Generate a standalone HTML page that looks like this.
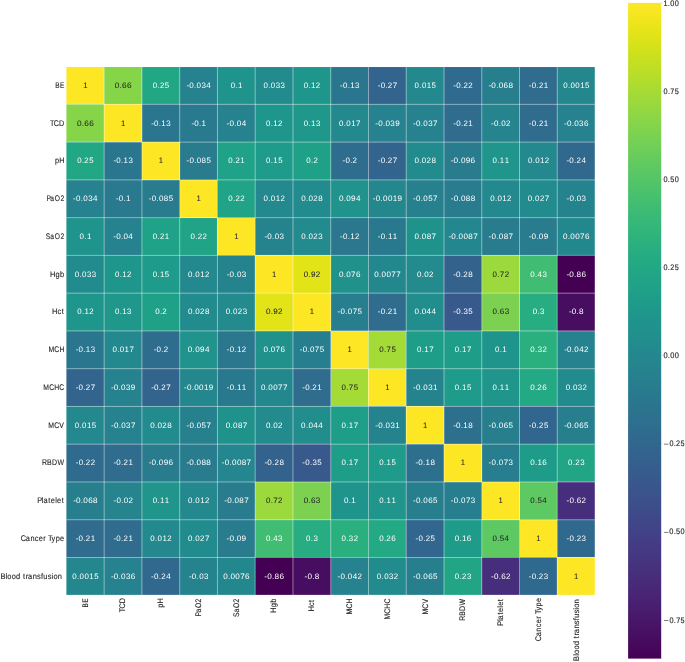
<!DOCTYPE html>
<html><head><meta charset="utf-8"><style>
html,body{margin:0;padding:0;background:#fff;}
body{width:685px;height:662px;overflow:hidden;position:relative;}
svg{position:absolute;left:0;top:0;display:block;will-change:transform;}
text{font-family:"Liberation Sans",sans-serif;text-rendering:geometricPrecision;}
</style></head><body>
<svg width="685" height="662" viewBox="0 0 685 662">
<defs><linearGradient id="cb" x1="0" y1="1" x2="0" y2="0">
<stop offset="0.0000" stop-color="#440154"/>
<stop offset="0.0156" stop-color="#46075a"/>
<stop offset="0.0312" stop-color="#470d60"/>
<stop offset="0.0469" stop-color="#471365"/>
<stop offset="0.0625" stop-color="#48186a"/>
<stop offset="0.0781" stop-color="#481d6f"/>
<stop offset="0.0938" stop-color="#482374"/>
<stop offset="0.1094" stop-color="#482878"/>
<stop offset="0.1250" stop-color="#472d7b"/>
<stop offset="0.1406" stop-color="#46327e"/>
<stop offset="0.1562" stop-color="#453781"/>
<stop offset="0.1719" stop-color="#443b84"/>
<stop offset="0.1875" stop-color="#424086"/>
<stop offset="0.2031" stop-color="#404588"/>
<stop offset="0.2188" stop-color="#3e4989"/>
<stop offset="0.2344" stop-color="#3d4e8a"/>
<stop offset="0.2500" stop-color="#3b528b"/>
<stop offset="0.2656" stop-color="#39568c"/>
<stop offset="0.2812" stop-color="#375b8d"/>
<stop offset="0.2969" stop-color="#355f8d"/>
<stop offset="0.3125" stop-color="#33638d"/>
<stop offset="0.3281" stop-color="#31678e"/>
<stop offset="0.3438" stop-color="#2f6b8e"/>
<stop offset="0.3594" stop-color="#2e6f8e"/>
<stop offset="0.3750" stop-color="#2c728e"/>
<stop offset="0.3906" stop-color="#2a768e"/>
<stop offset="0.4062" stop-color="#297a8e"/>
<stop offset="0.4219" stop-color="#277e8e"/>
<stop offset="0.4375" stop-color="#26828e"/>
<stop offset="0.4531" stop-color="#25858e"/>
<stop offset="0.4688" stop-color="#23898e"/>
<stop offset="0.4844" stop-color="#228d8d"/>
<stop offset="0.5000" stop-color="#21918c"/>
<stop offset="0.5156" stop-color="#1f948c"/>
<stop offset="0.5312" stop-color="#1f988b"/>
<stop offset="0.5469" stop-color="#1e9c89"/>
<stop offset="0.5625" stop-color="#1fa088"/>
<stop offset="0.5781" stop-color="#20a386"/>
<stop offset="0.5938" stop-color="#22a785"/>
<stop offset="0.6094" stop-color="#25ab82"/>
<stop offset="0.6250" stop-color="#28ae80"/>
<stop offset="0.6406" stop-color="#2db27d"/>
<stop offset="0.6562" stop-color="#32b67a"/>
<stop offset="0.6719" stop-color="#38b977"/>
<stop offset="0.6875" stop-color="#3fbc73"/>
<stop offset="0.7031" stop-color="#46c06f"/>
<stop offset="0.7188" stop-color="#4ec36b"/>
<stop offset="0.7344" stop-color="#56c667"/>
<stop offset="0.7500" stop-color="#5ec962"/>
<stop offset="0.7656" stop-color="#67cc5c"/>
<stop offset="0.7812" stop-color="#70cf57"/>
<stop offset="0.7969" stop-color="#7ad151"/>
<stop offset="0.8125" stop-color="#84d44b"/>
<stop offset="0.8281" stop-color="#8ed645"/>
<stop offset="0.8438" stop-color="#98d83e"/>
<stop offset="0.8594" stop-color="#a2da37"/>
<stop offset="0.8750" stop-color="#addc30"/>
<stop offset="0.8906" stop-color="#b8de29"/>
<stop offset="0.9062" stop-color="#c2df23"/>
<stop offset="0.9219" stop-color="#cde11d"/>
<stop offset="0.9375" stop-color="#d8e219"/>
<stop offset="0.9531" stop-color="#e2e418"/>
<stop offset="0.9688" stop-color="#ece51b"/>
<stop offset="0.9844" stop-color="#f6e620"/>
<stop offset="1.0000" stop-color="#fde725"/>
</linearGradient></defs>
<g shape-rendering="crispEdges">
<rect x="66.40" y="66.60" width="38.06" height="38.06" fill="#fde725"/>
<rect x="104.16" y="66.60" width="38.06" height="38.06" fill="#86d549"/>
<rect x="141.92" y="66.60" width="38.06" height="38.06" fill="#22a785"/>
<rect x="179.68" y="66.60" width="38.06" height="38.06" fill="#26828e"/>
<rect x="217.44" y="66.60" width="38.06" height="38.06" fill="#1f948c"/>
<rect x="255.20" y="66.60" width="38.06" height="38.06" fill="#228b8d"/>
<rect x="292.96" y="66.60" width="38.06" height="38.06" fill="#1f968b"/>
<rect x="330.72" y="66.60" width="38.06" height="38.06" fill="#2a768e"/>
<rect x="368.48" y="66.60" width="38.06" height="38.06" fill="#32648e"/>
<rect x="406.24" y="66.60" width="38.06" height="38.06" fill="#23898e"/>
<rect x="444.00" y="66.60" width="38.06" height="38.06" fill="#2f6b8e"/>
<rect x="481.76" y="66.60" width="38.06" height="38.06" fill="#277f8e"/>
<rect x="519.52" y="66.60" width="38.06" height="38.06" fill="#2f6c8e"/>
<rect x="557.28" y="66.60" width="37.76" height="38.06" fill="#24878e"/>
<rect x="66.40" y="104.36" width="38.06" height="38.06" fill="#86d549"/>
<rect x="104.16" y="104.36" width="38.06" height="38.06" fill="#fde725"/>
<rect x="141.92" y="104.36" width="38.06" height="38.06" fill="#2a768e"/>
<rect x="179.68" y="104.36" width="38.06" height="38.06" fill="#297a8e"/>
<rect x="217.44" y="104.36" width="38.06" height="38.06" fill="#26828e"/>
<rect x="255.20" y="104.36" width="38.06" height="38.06" fill="#1f968b"/>
<rect x="292.96" y="104.36" width="38.06" height="38.06" fill="#1f988b"/>
<rect x="330.72" y="104.36" width="38.06" height="38.06" fill="#23898e"/>
<rect x="368.48" y="104.36" width="38.06" height="38.06" fill="#26828e"/>
<rect x="406.24" y="104.36" width="38.06" height="38.06" fill="#26828e"/>
<rect x="444.00" y="104.36" width="38.06" height="38.06" fill="#2f6c8e"/>
<rect x="481.76" y="104.36" width="38.06" height="38.06" fill="#25848e"/>
<rect x="519.52" y="104.36" width="38.06" height="38.06" fill="#2f6c8e"/>
<rect x="557.28" y="104.36" width="37.76" height="38.06" fill="#26828e"/>
<rect x="66.40" y="142.12" width="38.06" height="38.06" fill="#22a785"/>
<rect x="104.16" y="142.12" width="38.06" height="38.06" fill="#2a768e"/>
<rect x="141.92" y="142.12" width="38.06" height="38.06" fill="#fde725"/>
<rect x="179.68" y="142.12" width="38.06" height="38.06" fill="#287c8e"/>
<rect x="217.44" y="142.12" width="38.06" height="38.06" fill="#1fa287"/>
<rect x="255.20" y="142.12" width="38.06" height="38.06" fill="#1e9b8a"/>
<rect x="292.96" y="142.12" width="38.06" height="38.06" fill="#1fa188"/>
<rect x="330.72" y="142.12" width="38.06" height="38.06" fill="#2e6d8e"/>
<rect x="368.48" y="142.12" width="38.06" height="38.06" fill="#32648e"/>
<rect x="406.24" y="142.12" width="38.06" height="38.06" fill="#228b8d"/>
<rect x="444.00" y="142.12" width="38.06" height="38.06" fill="#297b8e"/>
<rect x="481.76" y="142.12" width="38.06" height="38.06" fill="#1f958b"/>
<rect x="519.52" y="142.12" width="38.06" height="38.06" fill="#23898e"/>
<rect x="557.28" y="142.12" width="37.76" height="38.06" fill="#31688e"/>
<rect x="66.40" y="179.88" width="38.06" height="38.06" fill="#26828e"/>
<rect x="104.16" y="179.88" width="38.06" height="38.06" fill="#297a8e"/>
<rect x="141.92" y="179.88" width="38.06" height="38.06" fill="#287c8e"/>
<rect x="179.68" y="179.88" width="38.06" height="38.06" fill="#fde725"/>
<rect x="217.44" y="179.88" width="38.06" height="38.06" fill="#20a386"/>
<rect x="255.20" y="179.88" width="38.06" height="38.06" fill="#23898e"/>
<rect x="292.96" y="179.88" width="38.06" height="38.06" fill="#228b8d"/>
<rect x="330.72" y="179.88" width="38.06" height="38.06" fill="#20938c"/>
<rect x="368.48" y="179.88" width="38.06" height="38.06" fill="#24878e"/>
<rect x="406.24" y="179.88" width="38.06" height="38.06" fill="#27808e"/>
<rect x="444.00" y="179.88" width="38.06" height="38.06" fill="#287c8e"/>
<rect x="481.76" y="179.88" width="38.06" height="38.06" fill="#23898e"/>
<rect x="519.52" y="179.88" width="38.06" height="38.06" fill="#228b8d"/>
<rect x="557.28" y="179.88" width="37.76" height="38.06" fill="#25838e"/>
<rect x="66.40" y="217.64" width="38.06" height="38.06" fill="#1f948c"/>
<rect x="104.16" y="217.64" width="38.06" height="38.06" fill="#26828e"/>
<rect x="141.92" y="217.64" width="38.06" height="38.06" fill="#1fa287"/>
<rect x="179.68" y="217.64" width="38.06" height="38.06" fill="#20a386"/>
<rect x="217.44" y="217.64" width="38.06" height="38.06" fill="#fde725"/>
<rect x="255.20" y="217.64" width="38.06" height="38.06" fill="#25838e"/>
<rect x="292.96" y="217.64" width="38.06" height="38.06" fill="#238a8d"/>
<rect x="330.72" y="217.64" width="38.06" height="38.06" fill="#2a778e"/>
<rect x="368.48" y="217.64" width="38.06" height="38.06" fill="#29798e"/>
<rect x="406.24" y="217.64" width="38.06" height="38.06" fill="#20928c"/>
<rect x="444.00" y="217.64" width="38.06" height="38.06" fill="#24868e"/>
<rect x="481.76" y="217.64" width="38.06" height="38.06" fill="#287c8e"/>
<rect x="519.52" y="217.64" width="38.06" height="38.06" fill="#297b8e"/>
<rect x="557.28" y="217.64" width="37.76" height="38.06" fill="#23888e"/>
<rect x="66.40" y="255.40" width="38.06" height="38.06" fill="#228b8d"/>
<rect x="104.16" y="255.40" width="38.06" height="38.06" fill="#1f968b"/>
<rect x="141.92" y="255.40" width="38.06" height="38.06" fill="#1e9b8a"/>
<rect x="179.68" y="255.40" width="38.06" height="38.06" fill="#23898e"/>
<rect x="217.44" y="255.40" width="38.06" height="38.06" fill="#25838e"/>
<rect x="255.20" y="255.40" width="38.06" height="38.06" fill="#fde725"/>
<rect x="292.96" y="255.40" width="38.06" height="38.06" fill="#e2e418"/>
<rect x="330.72" y="255.40" width="38.06" height="38.06" fill="#21918c"/>
<rect x="368.48" y="255.40" width="38.06" height="38.06" fill="#23888e"/>
<rect x="406.24" y="255.40" width="38.06" height="38.06" fill="#238a8d"/>
<rect x="444.00" y="255.40" width="38.06" height="38.06" fill="#33628d"/>
<rect x="481.76" y="255.40" width="38.06" height="38.06" fill="#9bd93c"/>
<rect x="519.52" y="255.40" width="38.06" height="38.06" fill="#40bd72"/>
<rect x="557.28" y="255.40" width="37.76" height="38.06" fill="#440154"/>
<rect x="66.40" y="293.16" width="38.06" height="38.06" fill="#1f968b"/>
<rect x="104.16" y="293.16" width="38.06" height="38.06" fill="#1f988b"/>
<rect x="141.92" y="293.16" width="38.06" height="38.06" fill="#1fa188"/>
<rect x="179.68" y="293.16" width="38.06" height="38.06" fill="#228b8d"/>
<rect x="217.44" y="293.16" width="38.06" height="38.06" fill="#238a8d"/>
<rect x="255.20" y="293.16" width="38.06" height="38.06" fill="#e2e418"/>
<rect x="292.96" y="293.16" width="38.06" height="38.06" fill="#fde725"/>
<rect x="330.72" y="293.16" width="38.06" height="38.06" fill="#277e8e"/>
<rect x="368.48" y="293.16" width="38.06" height="38.06" fill="#2f6c8e"/>
<rect x="406.24" y="293.16" width="38.06" height="38.06" fill="#228d8d"/>
<rect x="444.00" y="293.16" width="38.06" height="38.06" fill="#38598c"/>
<rect x="481.76" y="293.16" width="38.06" height="38.06" fill="#7cd250"/>
<rect x="519.52" y="293.16" width="38.06" height="38.06" fill="#27ad81"/>
<rect x="557.28" y="293.16" width="37.76" height="38.06" fill="#470d60"/>
<rect x="66.40" y="330.92" width="38.06" height="38.06" fill="#2a768e"/>
<rect x="104.16" y="330.92" width="38.06" height="38.06" fill="#23898e"/>
<rect x="141.92" y="330.92" width="38.06" height="38.06" fill="#2e6d8e"/>
<rect x="179.68" y="330.92" width="38.06" height="38.06" fill="#20938c"/>
<rect x="217.44" y="330.92" width="38.06" height="38.06" fill="#2a778e"/>
<rect x="255.20" y="330.92" width="38.06" height="38.06" fill="#21918c"/>
<rect x="292.96" y="330.92" width="38.06" height="38.06" fill="#277e8e"/>
<rect x="330.72" y="330.92" width="38.06" height="38.06" fill="#fde725"/>
<rect x="368.48" y="330.92" width="38.06" height="38.06" fill="#a5db36"/>
<rect x="406.24" y="330.92" width="38.06" height="38.06" fill="#1e9d89"/>
<rect x="444.00" y="330.92" width="38.06" height="38.06" fill="#1e9d89"/>
<rect x="481.76" y="330.92" width="38.06" height="38.06" fill="#1f948c"/>
<rect x="519.52" y="330.92" width="38.06" height="38.06" fill="#2ab07f"/>
<rect x="557.28" y="330.92" width="37.76" height="38.06" fill="#26828e"/>
<rect x="66.40" y="368.68" width="38.06" height="38.06" fill="#32648e"/>
<rect x="104.16" y="368.68" width="38.06" height="38.06" fill="#26828e"/>
<rect x="141.92" y="368.68" width="38.06" height="38.06" fill="#32648e"/>
<rect x="179.68" y="368.68" width="38.06" height="38.06" fill="#24878e"/>
<rect x="217.44" y="368.68" width="38.06" height="38.06" fill="#29798e"/>
<rect x="255.20" y="368.68" width="38.06" height="38.06" fill="#23888e"/>
<rect x="292.96" y="368.68" width="38.06" height="38.06" fill="#2f6c8e"/>
<rect x="330.72" y="368.68" width="38.06" height="38.06" fill="#a5db36"/>
<rect x="368.48" y="368.68" width="38.06" height="38.06" fill="#fde725"/>
<rect x="406.24" y="368.68" width="38.06" height="38.06" fill="#25838e"/>
<rect x="444.00" y="368.68" width="38.06" height="38.06" fill="#1e9b8a"/>
<rect x="481.76" y="368.68" width="38.06" height="38.06" fill="#1f958b"/>
<rect x="519.52" y="368.68" width="38.06" height="38.06" fill="#23a983"/>
<rect x="557.28" y="368.68" width="37.76" height="38.06" fill="#228b8d"/>
<rect x="66.40" y="406.44" width="38.06" height="38.06" fill="#23898e"/>
<rect x="104.16" y="406.44" width="38.06" height="38.06" fill="#26828e"/>
<rect x="141.92" y="406.44" width="38.06" height="38.06" fill="#228b8d"/>
<rect x="179.68" y="406.44" width="38.06" height="38.06" fill="#27808e"/>
<rect x="217.44" y="406.44" width="38.06" height="38.06" fill="#20928c"/>
<rect x="255.20" y="406.44" width="38.06" height="38.06" fill="#238a8d"/>
<rect x="292.96" y="406.44" width="38.06" height="38.06" fill="#228d8d"/>
<rect x="330.72" y="406.44" width="38.06" height="38.06" fill="#1e9d89"/>
<rect x="368.48" y="406.44" width="38.06" height="38.06" fill="#25838e"/>
<rect x="406.24" y="406.44" width="38.06" height="38.06" fill="#fde725"/>
<rect x="444.00" y="406.44" width="38.06" height="38.06" fill="#2d708e"/>
<rect x="481.76" y="406.44" width="38.06" height="38.06" fill="#277f8e"/>
<rect x="519.52" y="406.44" width="38.06" height="38.06" fill="#31668e"/>
<rect x="557.28" y="406.44" width="37.76" height="38.06" fill="#277f8e"/>
<rect x="66.40" y="444.20" width="38.06" height="38.06" fill="#2f6b8e"/>
<rect x="104.16" y="444.20" width="38.06" height="38.06" fill="#2f6c8e"/>
<rect x="141.92" y="444.20" width="38.06" height="38.06" fill="#297b8e"/>
<rect x="179.68" y="444.20" width="38.06" height="38.06" fill="#287c8e"/>
<rect x="217.44" y="444.20" width="38.06" height="38.06" fill="#24868e"/>
<rect x="255.20" y="444.20" width="38.06" height="38.06" fill="#33628d"/>
<rect x="292.96" y="444.20" width="38.06" height="38.06" fill="#38598c"/>
<rect x="330.72" y="444.20" width="38.06" height="38.06" fill="#1e9d89"/>
<rect x="368.48" y="444.20" width="38.06" height="38.06" fill="#1e9b8a"/>
<rect x="406.24" y="444.20" width="38.06" height="38.06" fill="#2d708e"/>
<rect x="444.00" y="444.20" width="38.06" height="38.06" fill="#fde725"/>
<rect x="481.76" y="444.20" width="38.06" height="38.06" fill="#277e8e"/>
<rect x="519.52" y="444.20" width="38.06" height="38.06" fill="#1e9c89"/>
<rect x="557.28" y="444.20" width="37.76" height="38.06" fill="#21a585"/>
<rect x="66.40" y="481.96" width="38.06" height="38.06" fill="#277f8e"/>
<rect x="104.16" y="481.96" width="38.06" height="38.06" fill="#25848e"/>
<rect x="141.92" y="481.96" width="38.06" height="38.06" fill="#1f958b"/>
<rect x="179.68" y="481.96" width="38.06" height="38.06" fill="#23898e"/>
<rect x="217.44" y="481.96" width="38.06" height="38.06" fill="#287c8e"/>
<rect x="255.20" y="481.96" width="38.06" height="38.06" fill="#9bd93c"/>
<rect x="292.96" y="481.96" width="38.06" height="38.06" fill="#7cd250"/>
<rect x="330.72" y="481.96" width="38.06" height="38.06" fill="#1f948c"/>
<rect x="368.48" y="481.96" width="38.06" height="38.06" fill="#1f958b"/>
<rect x="406.24" y="481.96" width="38.06" height="38.06" fill="#277f8e"/>
<rect x="444.00" y="481.96" width="38.06" height="38.06" fill="#277e8e"/>
<rect x="481.76" y="481.96" width="38.06" height="38.06" fill="#fde725"/>
<rect x="519.52" y="481.96" width="38.06" height="38.06" fill="#5ec962"/>
<rect x="557.28" y="481.96" width="37.76" height="38.06" fill="#472e7c"/>
<rect x="66.40" y="519.72" width="38.06" height="38.06" fill="#2f6c8e"/>
<rect x="104.16" y="519.72" width="38.06" height="38.06" fill="#2f6c8e"/>
<rect x="141.92" y="519.72" width="38.06" height="38.06" fill="#23898e"/>
<rect x="179.68" y="519.72" width="38.06" height="38.06" fill="#228b8d"/>
<rect x="217.44" y="519.72" width="38.06" height="38.06" fill="#297b8e"/>
<rect x="255.20" y="519.72" width="38.06" height="38.06" fill="#40bd72"/>
<rect x="292.96" y="519.72" width="38.06" height="38.06" fill="#27ad81"/>
<rect x="330.72" y="519.72" width="38.06" height="38.06" fill="#2ab07f"/>
<rect x="368.48" y="519.72" width="38.06" height="38.06" fill="#23a983"/>
<rect x="406.24" y="519.72" width="38.06" height="38.06" fill="#31668e"/>
<rect x="444.00" y="519.72" width="38.06" height="38.06" fill="#1e9c89"/>
<rect x="481.76" y="519.72" width="38.06" height="38.06" fill="#5ec962"/>
<rect x="519.52" y="519.72" width="38.06" height="38.06" fill="#fde725"/>
<rect x="557.28" y="519.72" width="37.76" height="38.06" fill="#30698e"/>
<rect x="66.40" y="557.48" width="38.06" height="37.76" fill="#24878e"/>
<rect x="104.16" y="557.48" width="38.06" height="37.76" fill="#26828e"/>
<rect x="141.92" y="557.48" width="38.06" height="37.76" fill="#31688e"/>
<rect x="179.68" y="557.48" width="38.06" height="37.76" fill="#25838e"/>
<rect x="217.44" y="557.48" width="38.06" height="37.76" fill="#23888e"/>
<rect x="255.20" y="557.48" width="38.06" height="37.76" fill="#440154"/>
<rect x="292.96" y="557.48" width="38.06" height="37.76" fill="#470d60"/>
<rect x="330.72" y="557.48" width="38.06" height="37.76" fill="#26828e"/>
<rect x="368.48" y="557.48" width="38.06" height="37.76" fill="#228b8d"/>
<rect x="406.24" y="557.48" width="38.06" height="37.76" fill="#277f8e"/>
<rect x="444.00" y="557.48" width="38.06" height="37.76" fill="#21a585"/>
<rect x="481.76" y="557.48" width="38.06" height="37.76" fill="#472e7c"/>
<rect x="519.52" y="557.48" width="38.06" height="37.76" fill="#30698e"/>
<rect x="557.28" y="557.48" width="37.76" height="37.76" fill="#fde725"/>
</g>
<path d="M66.40 66.60V595.24M66.40 66.60H595.04M104.16 66.60V595.24M66.40 104.36H595.04M141.92 66.60V595.24M66.40 142.12H595.04M179.68 66.60V595.24M66.40 179.88H595.04M217.44 66.60V595.24M66.40 217.64H595.04M255.20 66.60V595.24M66.40 255.40H595.04M292.96 66.60V595.24M66.40 293.16H595.04M330.72 66.60V595.24M66.40 330.92H595.04M368.48 66.60V595.24M66.40 368.68H595.04M406.24 66.60V595.24M66.40 406.44H595.04M444.00 66.60V595.24M66.40 444.20H595.04M481.76 66.60V595.24M66.40 481.96H595.04M519.52 66.60V595.24M66.40 519.72H595.04M557.28 66.60V595.24M66.40 557.48H595.04M595.04 66.60V595.24M66.40 595.24H595.04" stroke="#fff" stroke-opacity="0.5" stroke-width="0.9" fill="none"/>
<g font-size="7.90">
<text transform="translate(0 87.78) scale(0.9740 1)" x="85.36" y="0" fill="#262626" stroke="#262626" stroke-width="0.05">1</text>
<text transform="translate(0 87.78) scale(1.0427 1)" x="110.05 114.65 117.06 121.73" y="0" fill="#262626" stroke="#262626" stroke-width="0.05">0.66</text>
<text transform="translate(0 87.78) scale(0.9941 1)" x="153.61 158.38 160.85 165.83" y="0" fill="#ffffff">0.25</text>
<text transform="translate(0 87.78) scale(1.0163 1)" x="183.42 186.27 190.96 193.45 198.25 203.04" y="0" fill="#ffffff">-0.034</text>
<text transform="translate(0 87.78) scale(1.0045 1)" x="229.62 234.35 236.86" y="0" fill="#ffffff">0.1</text>
<text transform="translate(0 87.78) scale(1.0035 1)" x="262.60 267.34 269.87 274.73 279.59" y="0" fill="#ffffff">0.033</text>
<text transform="translate(0 87.78) scale(0.9982 1)" x="304.34 309.10 311.63 316.43" y="0" fill="#ffffff">0.12</text>
<text transform="translate(0 87.78) scale(1.0035 1)" x="338.80 341.70 346.44 348.96 353.84" y="0" fill="#ffffff">-0.13</text>
<text transform="translate(0 87.78) scale(1.0119 1)" x="373.30 376.17 380.88 383.29 388.19" y="0" fill="#ffffff">-0.27</text>
<text transform="translate(0 87.78) scale(0.9993 1)" x="414.88 419.63 422.18 427.03 431.90" y="0" fill="#ffffff">0.015</text>
<text transform="translate(0 87.78) scale(1.0076 1)" x="449.90 452.78 457.50 459.93 464.76" y="0" fill="#ffffff">-0.22</text>
<text transform="translate(0 87.78) scale(1.0347 1)" x="472.11 474.90 479.53 481.96 486.67 491.37" y="0" fill="#ffffff">-0.068</text>
<text transform="translate(0 87.78) scale(1.0053 1)" x="526.02 528.91 533.64 536.08 540.99" y="0" fill="#ffffff">-0.21</text>
<text transform="translate(0 87.78) scale(1.0041 1)" x="560.85 565.58 568.12 572.97 577.79 582.64" y="0" fill="#ffffff">0.0015</text>
<text transform="translate(0 125.54) scale(1.0427 1)" x="73.84 78.44 80.85 85.51" y="0" fill="#262626" stroke="#262626" stroke-width="0.05">0.66</text>
<text transform="translate(0 125.54) scale(0.9740 1)" x="124.13" y="0" fill="#262626" stroke="#262626" stroke-width="0.05">1</text>
<text transform="translate(0 125.54) scale(1.0035 1)" x="150.66 153.56 158.30 160.81 165.70" y="0" fill="#ffffff">-0.13</text>
<text transform="translate(0 125.54) scale(1.0130 1)" x="188.96 191.82 196.52 199.00" y="0" fill="#ffffff">-0.1</text>
<text transform="translate(0 125.54) scale(1.0263 1)" x="220.78 223.60 228.25 230.71 235.46" y="0" fill="#ffffff">-0.04</text>
<text transform="translate(0 125.54) scale(0.9982 1)" x="266.51 271.27 273.80 278.61" y="0" fill="#ffffff">0.12</text>
<text transform="translate(0 125.54) scale(0.9962 1)" x="304.89 309.66 312.20 317.12" y="0" fill="#ffffff">0.13</text>
<text transform="translate(0 125.54) scale(1.0084 1)" x="336.21 340.93 343.45 348.26 353.10" y="0" fill="#ffffff">0.017</text>
<text transform="translate(0 125.54) scale(1.0237 1)" x="366.56 369.38 374.05 376.51 381.28 385.99" y="0" fill="#ffffff">-0.039</text>
<text transform="translate(0 125.54) scale(1.0131 1)" x="407.76 410.62 415.32 417.83 422.64 427.43" y="0" fill="#ffffff">-0.037</text>
<text transform="translate(0 125.54) scale(1.0053 1)" x="450.90 453.79 458.52 460.96 465.87" y="0" fill="#ffffff">-0.21</text>
<text transform="translate(0 125.54) scale(1.0182 1)" x="482.29 485.14 489.82 492.31 496.99" y="0" fill="#ffffff">-0.02</text>
<text transform="translate(0 125.54) scale(1.0053 1)" x="526.02 528.91 533.64 536.08 540.99" y="0" fill="#ffffff">-0.21</text>
<text transform="translate(0 125.54) scale(1.0237 1)" x="550.96 553.78 558.45 560.91 565.68 570.43" y="0" fill="#ffffff">-0.036</text>
<text transform="translate(0 163.30) scale(0.9941 1)" x="77.64 82.41 84.89 89.86" y="0" fill="#ffffff">0.25</text>
<text transform="translate(0 163.30) scale(1.0035 1)" x="113.03 115.93 120.67 123.18 128.07" y="0" fill="#ffffff">-0.13</text>
<text transform="translate(0 163.30) scale(0.9740 1)" x="162.90" y="0" fill="#262626" stroke="#262626" stroke-width="0.05">1</text>
<text transform="translate(0 163.30) scale(1.0160 1)" x="183.59 186.44 191.14 193.63 198.43 203.19" y="0" fill="#ffffff">-0.085</text>
<text transform="translate(0 163.30) scale(0.9982 1)" x="228.65 233.40 235.86 240.81" y="0" fill="#ffffff">0.21</text>
<text transform="translate(0 163.30) scale(0.9913 1)" x="268.34 273.12 275.68 280.59" y="0" fill="#ffffff">0.15</text>
<text transform="translate(0 163.30) scale(1.0084 1)" x="303.65 308.37 310.79" y="0" fill="#ffffff">0.2</text>
<text transform="translate(0 163.30) scale(1.0160 1)" x="337.09 339.94 344.63 347.03" y="0" fill="#ffffff">-0.2</text>
<text transform="translate(0 163.30) scale(1.0119 1)" x="373.30 376.17 380.88 383.29 388.19" y="0" fill="#ffffff">-0.27</text>
<text transform="translate(0 163.30) scale(1.0174 1)" x="407.39 412.07 414.56 419.25 424.14" y="0" fill="#ffffff">0.028</text>
<text transform="translate(0 163.30) scale(1.0393 1)" x="433.67 436.44 441.05 443.47 448.12 452.84" y="0" fill="#ffffff">-0.096</text>
<text transform="translate(0 163.30) scale(0.9953 1)" x="494.89 499.65 502.20 507.09" y="0" fill="#ffffff">0.11</text>
<text transform="translate(0 163.30) scale(1.0046 1)" x="525.49 530.22 532.76 537.58 542.35" y="0" fill="#ffffff">0.012</text>
<text transform="translate(0 163.30) scale(1.0161 1)" x="557.46 560.32 565.01 567.41 572.30" y="0" fill="#ffffff">-0.24</text>
<text transform="translate(0 201.06) scale(1.0163 1)" x="71.95 74.81 79.50 81.99 86.79 91.58" y="0" fill="#ffffff">-0.034</text>
<text transform="translate(0 201.06) scale(1.0130 1)" x="114.40 117.27 121.97 124.45" y="0" fill="#ffffff">-0.1</text>
<text transform="translate(0 201.06) scale(1.0160 1)" x="146.42 149.28 153.97 156.46 161.26 166.03" y="0" fill="#ffffff">-0.085</text>
<text transform="translate(0 201.06) scale(0.9740 1)" x="201.67" y="0" fill="#262626" stroke="#262626" stroke-width="0.05">1</text>
<text transform="translate(0 201.06) scale(1.0010 1)" x="228.04 232.78 235.23 240.10" y="0" fill="#ffffff">0.22</text>
<text transform="translate(0 201.06) scale(1.0046 1)" x="262.38 267.11 269.64 274.47 279.24" y="0" fill="#ffffff">0.012</text>
<text transform="translate(0 201.06) scale(1.0174 1)" x="296.04 300.73 303.22 307.91 312.79" y="0" fill="#ffffff">0.028</text>
<text transform="translate(0 201.06) scale(1.0296 1)" x="329.15 333.79 336.24 340.94 345.70" y="0" fill="#ffffff">0.094</text>
<text transform="translate(0 201.06) scale(1.0238 1)" x="364.16 366.98 371.65 374.11 378.87 383.60 388.35" y="0" fill="#ffffff">-0.0019</text>
<text transform="translate(0 201.06) scale(1.0098 1)" x="409.08 411.96 416.67 419.19 423.99 428.82" y="0" fill="#ffffff">-0.057</text>
<text transform="translate(0 201.06) scale(1.0302 1)" x="437.56 440.36 445.00 447.44 452.18 456.90" y="0" fill="#ffffff">-0.088</text>
<text transform="translate(0 201.06) scale(1.0046 1)" x="487.90 492.63 495.17 499.99 504.76" y="0" fill="#ffffff">0.012</text>
<text transform="translate(0 201.06) scale(1.0104 1)" x="522.40 527.11 529.62 534.34 539.25" y="0" fill="#ffffff">0.027</text>
<text transform="translate(0 201.06) scale(1.0163 1)" x="557.45 560.30 564.99 567.48 572.28" y="0" fill="#ffffff">-0.03</text>
<text transform="translate(0 238.82) scale(1.0045 1)" x="79.26 83.99 86.50" y="0" fill="#ffffff">0.1</text>
<text transform="translate(0 238.82) scale(1.0263 1)" x="110.40 113.22 117.87 120.33 125.08" y="0" fill="#ffffff">-0.04</text>
<text transform="translate(0 238.82) scale(0.9982 1)" x="152.99 157.75 160.21 165.16" y="0" fill="#ffffff">0.21</text>
<text transform="translate(0 238.82) scale(1.0010 1)" x="190.31 195.06 197.51 202.37" y="0" fill="#ffffff">0.22</text>
<text transform="translate(0 238.82) scale(0.9740 1)" x="240.44" y="0" fill="#262626" stroke="#262626" stroke-width="0.05">1</text>
<text transform="translate(0 238.82) scale(1.0163 1)" x="260.21 263.06 267.75 270.25 275.05" y="0" fill="#ffffff">-0.03</text>
<text transform="translate(0 238.82) scale(1.0050 1)" x="299.75 304.49 307.02 311.77 316.71" y="0" fill="#ffffff">0.023</text>
<text transform="translate(0 238.82) scale(1.0053 1)" x="338.26 341.15 345.88 348.39 353.16" y="0" fill="#ffffff">-0.12</text>
<text transform="translate(0 238.82) scale(1.0029 1)" x="376.68 379.58 384.32 386.84 391.69" y="0" fill="#ffffff">-0.11</text>
<text transform="translate(0 238.82) scale(1.0211 1)" x="405.95 410.62 413.10 417.87 422.62" y="0" fill="#ffffff">0.087</text>
<text transform="translate(0 238.82) scale(1.0241 1)" x="437.84 440.66 445.33 447.79 452.54 457.31 462.04" y="0" fill="#ffffff">-0.0087</text>
<text transform="translate(0 238.82) scale(1.0241 1)" x="477.09 479.92 484.58 487.05 491.81 496.54" y="0" fill="#ffffff">-0.087</text>
<text transform="translate(0 238.82) scale(1.0359 1)" x="510.36 513.14 517.76 520.19 524.86" y="0" fill="#ffffff">-0.09</text>
<text transform="translate(0 238.82) scale(1.0258 1)" x="548.86 553.52 555.97 560.72 565.45 570.22" y="0" fill="#ffffff">0.0076</text>
<text transform="translate(0 276.58) scale(1.0035 1)" x="74.45 79.19 81.72 86.59 91.44" y="0" fill="#ffffff">0.033</text>
<text transform="translate(0 276.58) scale(0.9982 1)" x="115.20 119.96 122.49 127.29" y="0" fill="#ffffff">0.12</text>
<text transform="translate(0 276.58) scale(0.9913 1)" x="154.06 158.84 161.40 166.31" y="0" fill="#ffffff">0.15</text>
<text transform="translate(0 276.58) scale(1.0046 1)" x="187.20 191.93 194.47 199.29 204.06" y="0" fill="#ffffff">0.012</text>
<text transform="translate(0 276.58) scale(1.0163 1)" x="223.06 225.91 230.60 233.09 237.89" y="0" fill="#ffffff">-0.03</text>
<text transform="translate(0 276.58) scale(0.9740 1)" x="279.21" y="0" fill="#262626" stroke="#262626" stroke-width="0.05">1</text>
<text transform="translate(0 276.58) scale(1.0220 1)" x="297.21 301.88 304.33 309.02" y="0" fill="#262626" stroke="#262626" stroke-width="0.05">0.92</text>
<text transform="translate(0 276.58) scale(1.0263 1)" x="330.24 334.89 337.35 342.08 346.84" y="0" fill="#ffffff">0.076</text>
<text transform="translate(0 276.58) scale(1.0161 1)" x="368.41 373.10 375.59 380.38 385.16 389.95" y="0" fill="#ffffff">0.0077</text>
<text transform="translate(0 276.58) scale(1.0134 1)" x="411.53 416.23 418.73 423.44" y="0" fill="#ffffff">0.02</text>
<text transform="translate(0 276.58) scale(1.0198 1)" x="444.38 447.22 451.90 454.29 459.16" y="0" fill="#ffffff">-0.28</text>
<text transform="translate(0 276.58) scale(1.0060 1)" x="489.65 494.38 496.90 501.65" y="0" fill="#262626" stroke="#262626" stroke-width="0.05">0.72</text>
<text transform="translate(0 276.58) scale(1.0089 1)" x="525.58 530.29 532.82 537.65" y="0" fill="#ffffff">0.43</text>
<text transform="translate(0 276.58) scale(1.0376 1)" x="545.90 548.67 553.29 555.72 560.41" y="0" fill="#ffffff">-0.86</text>
<text transform="translate(0 314.34) scale(0.9982 1)" x="77.37 82.13 84.66 89.47" y="0" fill="#ffffff">0.12</text>
<text transform="translate(0 314.34) scale(0.9962 1)" x="115.36 120.13 122.67 127.59" y="0" fill="#ffffff">0.13</text>
<text transform="translate(0 314.34) scale(1.0084 1)" x="153.87 158.59 161.01" y="0" fill="#ffffff">0.2</text>
<text transform="translate(0 314.34) scale(1.0174 1)" x="184.70 189.38 191.87 196.56 201.45" y="0" fill="#ffffff">0.028</text>
<text transform="translate(0 314.34) scale(1.0050 1)" x="224.61 229.34 231.88 236.62 241.57" y="0" fill="#ffffff">0.023</text>
<text transform="translate(0 314.34) scale(1.0220 1)" x="260.26 264.93 267.38 272.08" y="0" fill="#262626" stroke="#262626" stroke-width="0.05">0.92</text>
<text transform="translate(0 314.34) scale(0.9740 1)" x="317.98" y="0" fill="#262626" stroke="#262626" stroke-width="0.05">1</text>
<text transform="translate(0 314.34) scale(1.0098 1)" x="334.29 337.17 341.89 344.40 349.21 354.02" y="0" fill="#ffffff">-0.075</text>
<text transform="translate(0 314.34) scale(1.0053 1)" x="375.78 378.67 383.40 385.84 390.75" y="0" fill="#ffffff">-0.21</text>
<text transform="translate(0 314.34) scale(1.0212 1)" x="405.79 410.47 412.94 417.72 422.48" y="0" fill="#ffffff">0.044</text>
<text transform="translate(0 314.34) scale(0.9999 1)" x="453.33 456.25 461.00 463.56 468.40" y="0" fill="#ffffff">-0.35</text>
<text transform="translate(0 314.34) scale(1.0197 1)" x="482.98 487.65 490.14 494.92" y="0" fill="#262626" stroke="#262626" stroke-width="0.05">0.63</text>
<text transform="translate(0 314.34) scale(1.0053 1)" x="529.87 534.59 537.14" y="0" fill="#ffffff">0.3</text>
<text transform="translate(0 314.34) scale(1.0324 1)" x="551.04 553.83 558.47 560.91" y="0" fill="#ffffff">-0.8</text>
<text transform="translate(0 352.10) scale(1.0035 1)" x="75.40 78.30 83.04 85.56 90.44" y="0" fill="#ffffff">-0.13</text>
<text transform="translate(0 352.10) scale(1.0084 1)" x="111.54 116.26 118.78 123.58 128.42" y="0" fill="#ffffff">0.017</text>
<text transform="translate(0 352.10) scale(1.0160 1)" x="151.26 154.12 158.81 161.21" y="0" fill="#ffffff">-0.2</text>
<text transform="translate(0 352.10) scale(1.0296 1)" x="182.44 187.09 189.53 194.23 199.00" y="0" fill="#ffffff">0.094</text>
<text transform="translate(0 352.10) scale(1.0053 1)" x="225.58 228.47 233.20 235.71 240.48" y="0" fill="#ffffff">-0.12</text>
<text transform="translate(0 352.10) scale(1.0263 1)" x="256.65 261.31 263.76 268.50 273.26" y="0" fill="#ffffff">0.076</text>
<text transform="translate(0 352.10) scale(1.0098 1)" x="296.90 299.78 304.49 307.01 311.82 316.63" y="0" fill="#ffffff">-0.075</text>
<text transform="translate(0 352.10) scale(0.9740 1)" x="356.75" y="0" fill="#262626" stroke="#262626" stroke-width="0.05">1</text>
<text transform="translate(0 352.10) scale(0.9990 1)" x="379.63 384.38 386.92 391.79" y="0" fill="#262626" stroke="#262626" stroke-width="0.05">0.75</text>
<text transform="translate(0 352.10) scale(1.0032 1)" x="415.66 420.40 422.91 427.78" y="0" fill="#ffffff">0.17</text>
<text transform="translate(0 352.10) scale(1.0032 1)" x="453.30 458.04 460.55 465.42" y="0" fill="#ffffff">0.17</text>
<text transform="translate(0 352.10) scale(1.0045 1)" x="492.76 497.49 500.00" y="0" fill="#ffffff">0.1</text>
<text transform="translate(0 352.10) scale(0.9990 1)" x="530.90 535.65 538.22 542.98" y="0" fill="#ffffff">0.32</text>
<text transform="translate(0 352.10) scale(1.0178 1)" x="554.31 557.16 561.84 564.33 569.12 573.80" y="0" fill="#ffffff">-0.042</text>
<text transform="translate(0 389.86) scale(1.0119 1)" x="74.78 77.65 82.36 84.77 89.67" y="0" fill="#ffffff">-0.27</text>
<text transform="translate(0 389.86) scale(1.0237 1)" x="108.36 111.19 115.85 118.32 123.08 127.80" y="0" fill="#ffffff">-0.039</text>
<text transform="translate(0 389.86) scale(1.0119 1)" x="149.41 152.28 156.99 159.40 164.30" y="0" fill="#ffffff">-0.27</text>
<text transform="translate(0 389.86) scale(1.0238 1)" x="179.74 182.57 187.23 189.70 194.45 199.18 203.93" y="0" fill="#ffffff">-0.0019</text>
<text transform="translate(0 389.86) scale(1.0029 1)" x="226.08 228.98 233.72 236.24 241.09" y="0" fill="#ffffff">-0.11</text>
<text transform="translate(0 389.86) scale(1.0161 1)" x="256.93 261.62 264.11 268.90 273.68 278.47" y="0" fill="#ffffff">0.0077</text>
<text transform="translate(0 389.86) scale(1.0053 1)" x="300.66 303.55 308.28 310.72 315.63" y="0" fill="#ffffff">-0.21</text>
<text transform="translate(0 389.86) scale(0.9990 1)" x="341.83 346.58 349.13 353.99" y="0" fill="#262626" stroke="#262626" stroke-width="0.05">0.75</text>
<text transform="translate(0 389.86) scale(0.9740 1)" x="395.52" y="0" fill="#262626" stroke="#262626" stroke-width="0.05">1</text>
<text transform="translate(0 389.86) scale(1.0080 1)" x="409.84 412.73 417.45 419.97 424.81 429.60" y="0" fill="#ffffff">-0.031</text>
<text transform="translate(0 389.86) scale(0.9913 1)" x="458.80 463.59 466.15 471.06" y="0" fill="#ffffff">0.15</text>
<text transform="translate(0 389.86) scale(0.9953 1)" x="494.89 499.65 502.20 507.09" y="0" fill="#ffffff">0.11</text>
<text transform="translate(0 389.86) scale(1.0220 1)" x="518.76 523.43 525.81 530.67" y="0" fill="#ffffff">0.26</text>
<text transform="translate(0 389.86) scale(1.0050 1)" x="562.83 567.56 570.09 574.94 579.68" y="0" fill="#ffffff">0.032</text>
<text transform="translate(0 427.62) scale(0.9993 1)" x="74.79 79.54 82.09 86.94 91.82" y="0" fill="#ffffff">0.015</text>
<text transform="translate(0 427.62) scale(1.0131 1)" x="109.57 112.44 117.14 119.64 124.46 129.24" y="0" fill="#ffffff">-0.037</text>
<text transform="translate(0 427.62) scale(1.0174 1)" x="147.58 152.27 154.76 159.45 164.34" y="0" fill="#ffffff">0.028</text>
<text transform="translate(0 427.62) scale(1.0098 1)" x="184.72 187.60 192.31 194.82 199.63 204.46" y="0" fill="#ffffff">-0.057</text>
<text transform="translate(0 427.62) scale(1.0211 1)" x="221.06 225.73 228.21 232.98 237.73" y="0" fill="#ffffff">0.087</text>
<text transform="translate(0 427.62) scale(1.0134 1)" x="262.48 267.19 269.69 274.40" y="0" fill="#ffffff">0.02</text>
<text transform="translate(0 427.62) scale(1.0212 1)" x="294.87 299.54 302.02 306.79 311.56" y="0" fill="#ffffff">0.044</text>
<text transform="translate(0 427.62) scale(1.0032 1)" x="340.38 345.12 347.64 352.50" y="0" fill="#ffffff">0.17</text>
<text transform="translate(0 427.62) scale(1.0080 1)" x="372.38 375.27 379.99 382.51 387.35 392.14" y="0" fill="#ffffff">-0.031</text>
<text transform="translate(0 427.62) scale(0.9740 1)" x="434.29" y="0" fill="#262626" stroke="#262626" stroke-width="0.05">1</text>
<text transform="translate(0 427.62) scale(1.0177 1)" x="445.32 448.17 452.86 455.32 460.14" y="0" fill="#ffffff">-0.18</text>
<text transform="translate(0 427.62) scale(1.0205 1)" x="478.80 481.63 486.31 488.79 493.57 498.31" y="0" fill="#ffffff">-0.065</text>
<text transform="translate(0 427.62) scale(1.0017 1)" x="527.94 530.84 535.59 538.04 542.97" y="0" fill="#ffffff">-0.25</text>
<text transform="translate(0 427.62) scale(1.0205 1)" x="552.80 555.64 560.32 562.79 567.57 572.31" y="0" fill="#ffffff">-0.065</text>
<text transform="translate(0 465.38) scale(1.0076 1)" x="75.16 78.05 82.77 85.20 90.03" y="0" fill="#ffffff">-0.22</text>
<text transform="translate(0 465.38) scale(1.0053 1)" x="112.86 115.75 120.48 122.92 127.83" y="0" fill="#ffffff">-0.21</text>
<text transform="translate(0 465.38) scale(1.0393 1)" x="143.02 145.79 150.40 152.81 157.47 162.19" y="0" fill="#ffffff">-0.096</text>
<text transform="translate(0 465.38) scale(1.0302 1)" x="180.98 183.78 188.42 190.86 195.60 200.32" y="0" fill="#ffffff">-0.088</text>
<text transform="translate(0 465.38) scale(1.0241 1)" x="216.61 219.44 224.10 226.56 231.32 236.08 240.81" y="0" fill="#ffffff">-0.0087</text>
<text transform="translate(0 465.38) scale(1.0198 1)" x="259.26 262.10 266.77 269.16 274.04" y="0" fill="#ffffff">-0.28</text>
<text transform="translate(0 465.38) scale(0.9999 1)" x="302.28 305.19 309.94 312.50 317.34" y="0" fill="#ffffff">-0.35</text>
<text transform="translate(0 465.38) scale(1.0032 1)" x="340.38 345.12 347.64 352.50" y="0" fill="#ffffff">0.17</text>
<text transform="translate(0 465.38) scale(0.9913 1)" x="382.62 387.40 389.96 394.87" y="0" fill="#ffffff">0.15</text>
<text transform="translate(0 465.38) scale(1.0177 1)" x="408.22 411.07 415.75 418.22 423.03" y="0" fill="#ffffff">-0.18</text>
<text transform="translate(0 465.38) scale(0.9740 1)" x="473.06" y="0" fill="#262626" stroke="#262626" stroke-width="0.05">1</text>
<text transform="translate(0 465.38) scale(1.0131 1)" x="482.28 485.15 489.85 492.35 497.15 501.97" y="0" fill="#ffffff">-0.073</text>
<text transform="translate(0 465.38) scale(1.0195 1)" x="520.03 524.71 527.16 531.97" y="0" fill="#ffffff">0.16</text>
<text transform="translate(0 465.38) scale(0.9990 1)" x="568.62 573.38 575.83 580.81" y="0" fill="#ffffff">0.23</text>
<text transform="translate(0 503.14) scale(1.0347 1)" x="70.69 73.48 78.11 80.53 85.25 89.95" y="0" fill="#ffffff">-0.068</text>
<text transform="translate(0 503.14) scale(1.0182 1)" x="111.45 114.30 118.98 121.47 126.15" y="0" fill="#ffffff">-0.02</text>
<text transform="translate(0 503.14) scale(0.9953 1)" x="153.44 158.21 160.76 165.65" y="0" fill="#ffffff">0.11</text>
<text transform="translate(0 503.14) scale(1.0046 1)" x="187.20 191.93 194.47 199.29 204.06" y="0" fill="#ffffff">0.012</text>
<text transform="translate(0 503.14) scale(1.0241 1)" x="218.99 221.82 226.48 228.94 233.71 238.44" y="0" fill="#ffffff">-0.087</text>
<text transform="translate(0 503.14) scale(1.0060 1)" x="264.44 269.16 271.68 276.44" y="0" fill="#262626" stroke="#262626" stroke-width="0.05">0.72</text>
<text transform="translate(0 503.14) scale(1.0197 1)" x="297.82 302.49 304.98 309.76" y="0" fill="#262626" stroke="#262626" stroke-width="0.05">0.63</text>
<text transform="translate(0 503.14) scale(1.0045 1)" x="342.39 347.13 349.64" y="0" fill="#ffffff">0.1</text>
<text transform="translate(0 503.14) scale(0.9953 1)" x="381.07 385.84 388.38 393.28" y="0" fill="#ffffff">0.11</text>
<text transform="translate(0 503.14) scale(1.0205 1)" x="404.79 407.63 412.30 414.78 419.56 424.30" y="0" fill="#ffffff">-0.065</text>
<text transform="translate(0 503.14) scale(1.0131 1)" x="445.01 447.88 452.58 455.08 459.88 464.70" y="0" fill="#ffffff">-0.073</text>
<text transform="translate(0 503.14) scale(0.9740 1)" x="511.83" y="0" fill="#262626" stroke="#262626" stroke-width="0.05">1</text>
<text transform="translate(0 503.14) scale(1.0042 1)" x="527.94 532.67 535.19 540.07" y="0" fill="#262626" stroke="#262626" stroke-width="0.05">0.54</text>
<text transform="translate(0 503.14) scale(1.0256 1)" x="552.43 555.25 559.90 562.37 567.02" y="0" fill="#ffffff">-0.62</text>
<text transform="translate(0 540.90) scale(1.0053 1)" x="75.30 78.19 82.92 85.36 90.27" y="0" fill="#ffffff">-0.21</text>
<text transform="translate(0 540.90) scale(1.0053 1)" x="112.86 115.75 120.48 122.92 127.83" y="0" fill="#ffffff">-0.21</text>
<text transform="translate(0 540.90) scale(1.0046 1)" x="149.61 154.35 156.88 161.70 166.48" y="0" fill="#ffffff">0.012</text>
<text transform="translate(0 540.90) scale(1.0104 1)" x="186.06 190.77 193.28 198.00 202.90" y="0" fill="#ffffff">0.027</text>
<text transform="translate(0 540.90) scale(1.0359 1)" x="218.76 221.54 226.17 228.59 233.26" y="0" fill="#ffffff">-0.09</text>
<text transform="translate(0 540.90) scale(1.0089 1)" x="263.59 268.31 270.83 275.66" y="0" fill="#ffffff">0.43</text>
<text transform="translate(0 540.90) scale(1.0053 1)" x="304.51 309.24 311.78" y="0" fill="#ffffff">0.3</text>
<text transform="translate(0 540.90) scale(0.9990 1)" x="341.91 346.66 349.22 353.99" y="0" fill="#ffffff">0.32</text>
<text transform="translate(0 540.90) scale(1.0220 1)" x="370.97 375.64 378.02 382.88" y="0" fill="#ffffff">0.26</text>
<text transform="translate(0 540.90) scale(1.0017 1)" x="414.84 417.75 422.49 424.94 429.88" y="0" fill="#ffffff">-0.25</text>
<text transform="translate(0 540.90) scale(1.0195 1)" x="445.95 450.63 453.09 457.89" y="0" fill="#ffffff">0.16</text>
<text transform="translate(0 540.90) scale(1.0042 1)" x="490.34 495.07 497.59 502.47" y="0" fill="#262626" stroke="#262626" stroke-width="0.05">0.54</text>
<text transform="translate(0 540.90) scale(0.9740 1)" x="550.60" y="0" fill="#262626" stroke="#262626" stroke-width="0.05">1</text>
<text transform="translate(0 540.90) scale(1.0058 1)" x="563.27 566.16 570.89 573.32 578.27" y="0" fill="#ffffff">-0.23</text>
<text transform="translate(0 578.66) scale(1.0041 1)" x="72.00 76.73 79.27 84.11 88.94 93.79" y="0" fill="#ffffff">0.0015</text>
<text transform="translate(0 578.66) scale(1.0237 1)" x="108.33 111.16 115.82 118.29 123.06 127.81" y="0" fill="#ffffff">-0.036</text>
<text transform="translate(0 578.66) scale(1.0161 1)" x="148.68 151.54 156.23 158.63 163.52" y="0" fill="#ffffff">-0.24</text>
<text transform="translate(0 578.66) scale(1.0163 1)" x="185.90 188.75 193.44 195.94 200.74" y="0" fill="#ffffff">-0.03</text>
<text transform="translate(0 578.66) scale(1.0258 1)" x="217.58 222.24 224.70 229.44 234.18 238.94" y="0" fill="#ffffff">0.0076</text>
<text transform="translate(0 578.66) scale(1.0376 1)" x="254.77 257.55 262.16 264.59 269.28" y="0" fill="#ffffff">-0.86</text>
<text transform="translate(0 578.66) scale(1.0324 1)" x="295.02 297.81 302.45 304.89" y="0" fill="#ffffff">-0.8</text>
<text transform="translate(0 578.66) scale(1.0178 1)" x="331.71 334.56 339.25 341.73 346.53 351.20" y="0" fill="#ffffff">-0.042</text>
<text transform="translate(0 578.66) scale(1.0050 1)" x="374.97 379.70 382.24 387.09 391.83" y="0" fill="#ffffff">0.032</text>
<text transform="translate(0 578.66) scale(1.0205 1)" x="404.79 407.63 412.30 414.78 419.56 424.30" y="0" fill="#ffffff">-0.065</text>
<text transform="translate(0 578.66) scale(0.9990 1)" x="455.23 459.98 462.44 467.42" y="0" fill="#ffffff">0.23</text>
<text transform="translate(0 578.66) scale(1.0256 1)" x="478.79 481.61 486.27 488.74 493.38" y="0" fill="#ffffff">-0.62</text>
<text transform="translate(0 578.66) scale(1.0058 1)" x="525.73 528.62 533.35 535.78 540.73" y="0" fill="#ffffff">-0.23</text>
<text transform="translate(0 578.66) scale(0.9740 1)" x="589.37" y="0" fill="#262626" stroke="#262626" stroke-width="0.05">1</text>
</g>
<g font-size="8.10" fill="#262626" stroke="#262626" stroke-width="0.12">
<text transform="translate(0 87.78) scale(0.7995 1)" x="69.26 75.06" y="0">BE</text>
<text transform="translate(0 125.54) scale(0.8850 1)" x="56.62 60.87 66.76" y="0">TCD</text>
<text transform="translate(0 163.30) scale(0.9049 1)" x="60.88 65.57" y="0">pH</text>
<text transform="translate(0 201.06) scale(0.8265 1)" x="56.14 60.94 66.30 73.16" y="0">PaO2</text>
<text transform="translate(0 238.82) scale(0.8273 1)" x="55.45 60.87 66.22 73.07" y="0">SaO2</text>
<text transform="translate(0 276.58) scale(0.9181 1)" x="54.51 60.45 65.42" y="0">Hgb</text>
<text transform="translate(0 314.34) scale(0.9317 1)" x="55.92 61.66 66.19" y="0">Hct</text>
<text transform="translate(0 352.10) scale(0.8505 1)" x="57.04 63.92 69.97" y="0">MCH</text>
<text transform="translate(0 389.86) scale(0.8407 1)" x="51.51 58.47 64.59 70.63" y="0">MCHC</text>
<text transform="translate(0 427.62) scale(0.8559 1)" x="56.49 63.33 69.27" y="0">MCV</text>
<text transform="translate(0 465.38) scale(0.8597 1)" x="48.98 54.72 60.49 66.78" y="0">RBDW</text>
<text transform="translate(0 503.14) scale(0.9160 1)" x="40.60 45.67 47.46 52.72 55.50 60.28 62.37 67.34" y="0">Platelet</text>
<text transform="translate(0 540.90) scale(0.9116 1)" x="22.85 28.34 33.47 38.16 42.54 47.54 50.45 52.70 56.59 61.14 65.95" y="0">Cancer Type</text>
<text transform="translate(0 578.66) scale(0.9247 1)" x="0.45 5.95 7.98 12.65 17.35 22.16 24.85 27.83 30.42 35.47 40.14 44.40 46.92 51.63 55.75 57.78 62.55" y="0">Blood transfusion</text>
</g>
<g font-size="8.10" fill="#262626" stroke="#262626" stroke-width="0.12">
<text transform="translate(87.68 0) rotate(-90) scale(0.7995 1)" x="-759.86 -754.06" y="0">BE</text>
<text transform="translate(125.44 0) rotate(-90) scale(0.8850 1)" x="-691.72 -687.47 -681.58" y="0">TCD</text>
<text transform="translate(163.20 0) rotate(-90) scale(0.9049 1)" x="-671.67 -666.98" y="0">pH</text>
<text transform="translate(200.96 0) rotate(-90) scale(0.8265 1)" x="-745.92 -741.12 -735.75 -728.90" y="0">PaO2</text>
<text transform="translate(238.72 0) rotate(-90) scale(0.8273 1)" x="-745.79 -740.37 -735.02 -728.17" y="0">SaO2</text>
<text transform="translate(276.48 0) rotate(-90) scale(0.9181 1)" x="-667.49 -661.55 -656.59" y="0">Hgb</text>
<text transform="translate(314.24 0) rotate(-90) scale(0.9317 1)" x="-656.30 -650.56 -646.03" y="0">Hct</text>
<text transform="translate(352.00 0) rotate(-90) scale(0.8505 1)" x="-722.43 -715.54 -709.50" y="0">MCH</text>
<text transform="translate(389.76 0) rotate(-90) scale(0.8407 1)" x="-737.03 -730.07 -723.96 -717.91" y="0">MCHC</text>
<text transform="translate(427.52 0) rotate(-90) scale(0.8559 1)" x="-718.00 -711.16 -705.22" y="0">MCV</text>
<text transform="translate(465.28 0) rotate(-90) scale(0.8597 1)" x="-722.10 -716.36 -710.59 -704.29" y="0">RBDW</text>
<text transform="translate(503.04 0) rotate(-90) scale(0.9160 1)" x="-683.08 -678.01 -676.23 -670.97 -668.19 -663.40 -661.31 -656.34" y="0">Platelet</text>
<text transform="translate(540.80 0) rotate(-90) scale(0.9116 1)" x="-703.51 -698.02 -692.90 -688.20 -683.82 -678.83 -675.92 -673.67 -669.78 -665.22 -660.42" y="0">Cancer Type</text>
<text transform="translate(578.56 0) rotate(-90) scale(0.9247 1)" x="-714.72 -709.22 -707.19 -702.52 -697.82 -693.01 -690.32 -687.34 -684.75 -679.70 -675.03 -670.77 -668.24 -663.54 -659.42 -657.39 -652.62" y="0">Blood transfusion</text>
</g>
<rect x="628.10" y="2.90" width="33.10" height="655.70" fill="url(#cb)"/>
<g font-size="8.00" fill="#262626" stroke="#262626" stroke-width="0.15">
<line x1="661.20" y1="2.90" x2="662.50" y2="2.90" stroke="#c8c8c8" stroke-width="0.7"/>
<text transform="translate(0 5.65) scale(0.9199 1)" x="721.22 726.02 728.56 733.44" y="0">1.00</text>
<line x1="661.20" y1="91.03" x2="662.50" y2="91.03" stroke="#c8c8c8" stroke-width="0.7"/>
<text transform="translate(0 93.78) scale(0.9092 1)" x="729.79 734.60 737.18 742.10" y="0">0.75</text>
<line x1="661.20" y1="179.16" x2="662.50" y2="179.16" stroke="#c8c8c8" stroke-width="0.7"/>
<text transform="translate(0 181.91) scale(0.9159 1)" x="724.38 729.17 731.71 736.62" y="0">0.50</text>
<line x1="661.20" y1="267.30" x2="662.50" y2="267.30" stroke="#c8c8c8" stroke-width="0.7"/>
<text transform="translate(0 270.05) scale(0.9047 1)" x="733.38 738.22 740.72 745.76" y="0">0.25</text>
<line x1="661.20" y1="355.43" x2="662.50" y2="355.43" stroke="#c8c8c8" stroke-width="0.7"/>
<text transform="translate(0 358.18) scale(0.9332 1)" x="710.95 715.67 718.16 722.96" y="0">0.00</text>
<line x1="661.20" y1="443.56" x2="662.50" y2="443.56" stroke="#c8c8c8" stroke-width="0.7"/>
<rect x="664.03" y="443.81" width="4.41" height="0.59" fill="#262626" stroke="none"/>
<text transform="translate(0 446.31) scale(0.9047 1)" x="739.91 744.75 747.25 752.29" y="0">0.25</text>
<line x1="661.20" y1="531.69" x2="662.50" y2="531.69" stroke="#c8c8c8" stroke-width="0.7"/>
<rect x="664.03" y="531.94" width="4.41" height="0.59" fill="#262626" stroke="none"/>
<text transform="translate(0 534.44) scale(0.9159 1)" x="730.83 735.62 738.16 743.07" y="0">0.50</text>
<line x1="661.20" y1="619.82" x2="662.50" y2="619.82" stroke="#c8c8c8" stroke-width="0.7"/>
<rect x="664.03" y="620.07" width="4.41" height="0.59" fill="#262626" stroke="none"/>
<text transform="translate(0 622.57) scale(0.9092 1)" x="736.29 741.10 743.67 748.60" y="0">0.75</text>
</g>
</svg></body></html>
